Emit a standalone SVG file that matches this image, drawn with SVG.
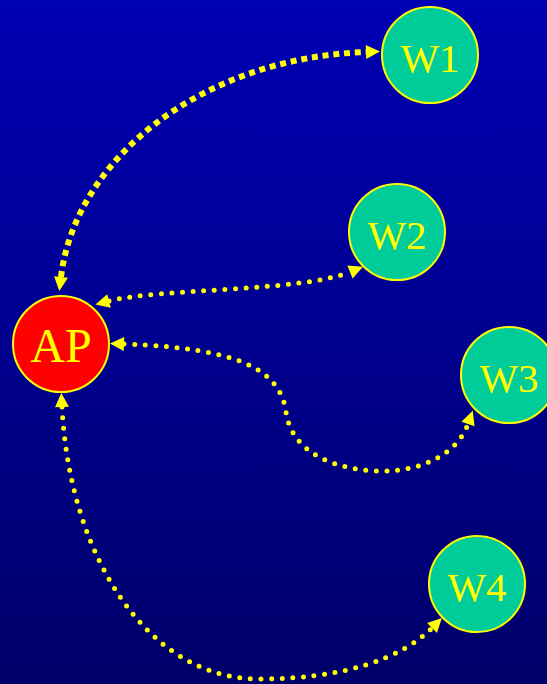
<svg xmlns="http://www.w3.org/2000/svg" width="547" height="684" viewBox="0 0 547 684">
<defs>
<linearGradient id="bg" x1="0" y1="0" x2="0" y2="1">
<stop offset="0" stop-color="#0000b4"/>
<stop offset="1" stop-color="#00006a"/>
</linearGradient>
<marker id="ah" markerUnits="userSpaceOnUse" markerWidth="15" markerHeight="15" refX="0" refY="7" orient="auto-start-reverse" overflow="visible">
<path d="M0,0 L14,7 L0,14 z" fill="#ffff00"/>
</marker>
<style>
.node circle{stroke:#ffff00;stroke-width:2}
.node text{fill:#ffff00;font-family:"Liberation Serif","Times New Roman",serif;text-anchor:middle}
.w circle{fill:#00cc99}
.w text{font-size:41px}
.link{fill:none;stroke:#ffff00;marker-start:url(#ah);marker-end:url(#ah)}
.dot{stroke-width:5;stroke-dasharray:0 10.6;stroke-linecap:round}
.sq{stroke-width:6;stroke-dasharray:6 4.8;stroke-linecap:butt}
</style>
</defs>
<rect width="547" height="684" fill="url(#bg)"/>
<g id="connectors">
<path class="link sq" d="M61,277 C75,160 200,58 366,52"/>
<path class="link dot" d="M109,301 C160,288 300,292 350,272"/>
<path class="link dot" d="M124,344 C240,348 280,370 286,412 C292,455 340,471 382,471 C425,471 458,452 468,424"/>
<path class="link dot" d="M62,407 C70,560 150,680 260,679 C340,679 400,660 432,628"/>
</g>
<g id="AP" class="node"><circle cx="61" cy="344" r="48" fill="#ff0000"/><text x="61" y="362" font-size="48">AP</text></g>
<g id="W1" class="node w"><circle cx="430" cy="55" r="48"/><text x="430" y="72">W1</text></g>
<g id="W2" class="node w"><circle cx="397" cy="232" r="48"/><text x="397" y="249">W2</text></g>
<g id="W3" class="node w"><circle cx="509" cy="375" r="48"/><text x="509" y="392">W3</text></g>
<g id="W4" class="node w"><circle cx="477" cy="584" r="48"/><text x="477" y="601">W4</text></g>
</svg>
